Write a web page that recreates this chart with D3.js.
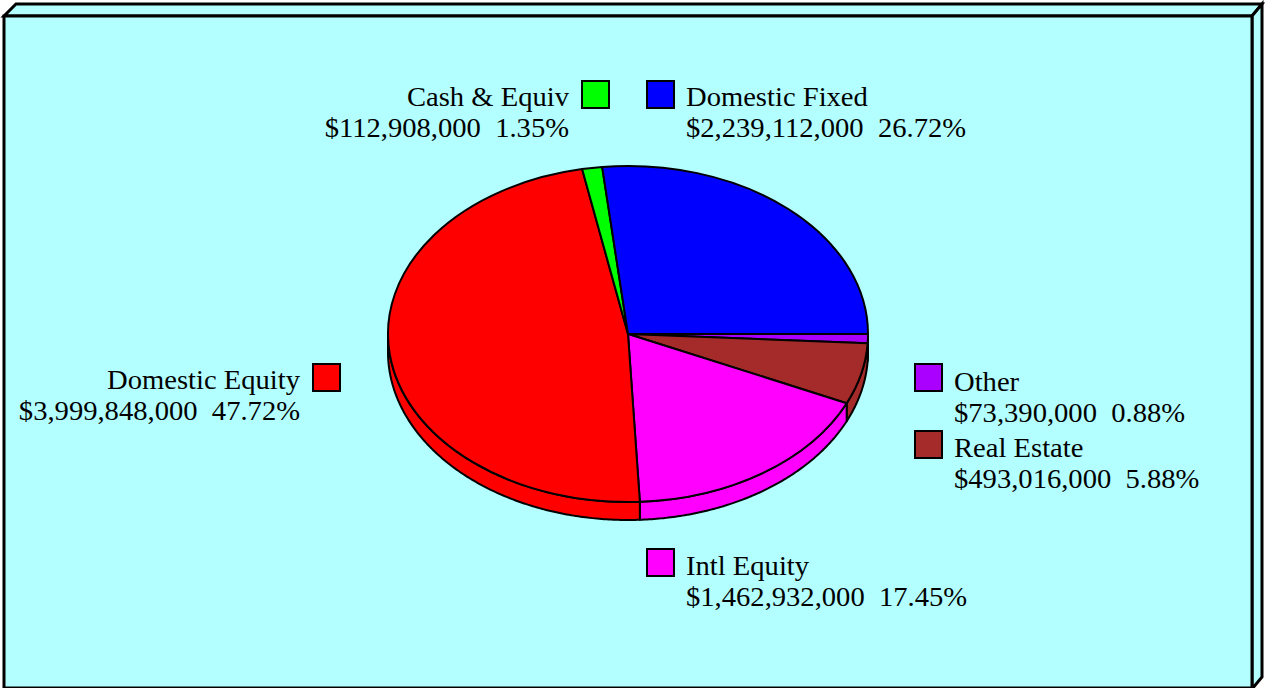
<!DOCTYPE html>
<html>
<head>
<meta charset="utf-8">
<script src="https://cdn.jsdelivr.net/npm/d3@7"></script>
<style>
  html, body { margin: 0; padding: 0; background: #ffffff; }
  svg { display: block; }
  text { font-family: "Liberation Serif", "Times New Roman", serif; font-size: 27.5px; fill: #000; white-space: pre; }
</style>
</head>
<body>
<svg id="chart" width="1266" height="688"></svg>
<script>
// ---- data ----
const categories = ["Other", "Real Estate", "Intl Equity", "Domestic Equity", "Cash & Equiv", "Domestic Fixed"];
const amounts = [73390000, 493016000, 1462932000, 3999848000, 112908000, 2239112000];
const percentLabels = ["0.88%", "5.88%", "17.45%", "47.72%", "1.35%", "26.72%"];
const colors = ["#AA00FF", "#A52A2A", "#FF00FF", "#FF0000", "#00FF00", "#0000FF"];

// ---- layout ----
const svg = d3.select("#chart");
const bg = "#B3FFFF";

// 3D panel
svg.append("path")
  .attr("d", "M4,16 L16,4 L1262,4 L1252,16 Z")
  .attr("fill", bg).attr("stroke", "#000").attr("stroke-width", 3);
svg.append("path")
  .attr("d", "M1252,16 L1262,4 L1262,677 L1252,689 Z")
  .attr("fill", bg).attr("stroke", "#000").attr("stroke-width", 3);
svg.append("rect")
  .attr("x", 4).attr("y", 16).attr("width", 1248).attr("height", 672)
  .attr("fill", bg).attr("stroke", "#000").attr("stroke-width", 3);

// pie geometry
const cx = 628, cy = 334, rx = 240, ry = 168, depth = 18;
const pie = d3.pie().sort(null).value(d => d).startAngle(Math.PI / 2).endAngle(Math.PI / 2 + 2 * Math.PI);
const arcs = pie(amounts);

const ex = a => cx + rx * Math.sin(a);
const ey = a => cy - ry * Math.cos(a);
const line = d3.line().x(d => d[0]).y(d => d[1]);

const g = svg.append("g");

// side walls (visible front half: angles PI/2 .. 3PI/2)
arcs.forEach((d, i) => {
  const lo = Math.max(d.startAngle, Math.PI / 2), hi = Math.min(d.endAngle, 3 * Math.PI / 2);
  if (hi <= lo) return;
  const n = Math.max(4, Math.ceil((hi - lo) / 0.01));
  const top = d3.range(n + 1).map(k => { const a = lo + (hi - lo) * k / n; return [ex(a), ey(a)]; });
  const bot = top.slice().reverse().map(p => [p[0], p[1] + depth]);
  g.append("path")
    .attr("d", line(top.concat(bot)) + "Z")
    .attr("fill", colors[i])
    .attr("stroke", "#000").attr("stroke-width", 2).attr("stroke-linejoin", "round");
});

// top faces
const arcGen = d3.arc().innerRadius(0).outerRadius(rx);
const topG = g.append("g").attr("transform", `translate(${cx},${cy}) scale(1,${ry / rx})`);
topG.selectAll("path.slice").data(arcs).join("path")
  .attr("class", "slice")
  .attr("d", arcGen)
  .attr("fill", (d, i) => colors[i])
  .attr("stroke", "#000").attr("stroke-width", 2)
  .attr("stroke-linejoin", "round")
  .attr("vector-effect", "non-scaling-stroke");

// labels
const fmt = d3.format("$,");
const labelLayout = [
  { box: [915, 364], side: "right", base: 391 },   // Other
  { box: [915, 431], side: "right", base: 457 },   // Real Estate
  { box: [647, 549], side: "right", base: 575 },   // Intl Equity
  { box: [313, 364], side: "left",  base: 389 },   // Domestic Equity
  { box: [582, 81],  side: "left",  base: 106 },   // Cash & Equiv
  { box: [647, 81],  side: "right", base: 106 }    // Domestic Fixed
];
const boxSize = 27, sx = 1.04, lineGap = 31;

categories.forEach((name, i) => {
  const L = labelLayout[i];
  svg.append("rect")
    .attr("x", L.box[0]).attr("y", L.box[1])
    .attr("width", boxSize).attr("height", boxSize)
    .attr("fill", colors[i]).attr("stroke", "#000").attr("stroke-width", 2);
  const tx = L.side === "right" ? L.box[0] + boxSize + 12 : L.box[0] - 13;
  const anchor = L.side === "right" ? "start" : "end";
  const lines = [name, fmt(amounts[i]) + "  " + percentLabels[i]];
  lines.forEach((t, k) => {
    svg.append("text")
      .attr("transform", `translate(${tx},${L.base + k * lineGap}) scale(${sx},1)`)
      .attr("text-anchor", anchor)
      .text(t);
  });
});
</script>
</body>
</html>
